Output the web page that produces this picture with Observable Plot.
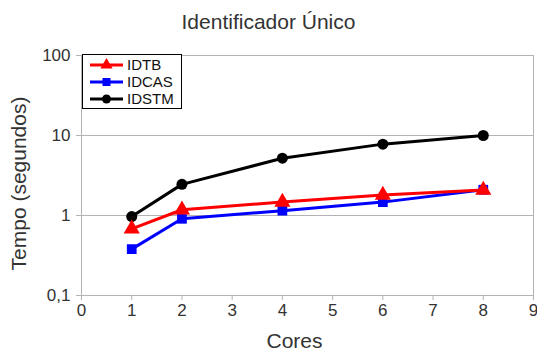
<!DOCTYPE html>
<html><head><meta charset="utf-8">
<script src="https://cdn.jsdelivr.net/npm/d3@7"></script>
<script src="https://cdn.jsdelivr.net/npm/@observablehq/plot@0.6"></script>
<style>
body{margin:0;background:#fff;font-family:"Liberation Sans",Arial,sans-serif;}
#wrap{position:relative;width:537px;height:352px;overflow:hidden;}
#title{height:40px;line-height:44px;text-align:center;font-size:21px;color:#333;}
#legend{position:absolute;left:82px;top:54px;}
</style></head>
<body><div id="wrap"><div id="title">Identificador Único</div><div id="chart"></div><div id="legend"></div></div>
<script>
const cores = [1, 2, 4, 6, 8];
const seriesNames = ["IDTB", "IDCAS", "IDSTM"];
const IDTB  = [0.68, 1.18, 1.47, 1.8, 2.08];
const IDCAS = [0.38, 0.91, 1.15, 1.47, 2.1];
const IDSTM = [0.97, 2.45, 5.2, 7.8, 10.0];
const xTicks = [0,1,2,3,4,5,6,7,8,9];
const yTicks = [0.1, 1, 10, 100];
const yTickLabels = ["0,1", "1", "10", "100"];
const colors = {IDTB: "#ff0000", IDCAS: "#0000ff", IDSTM: "#000000"};
const symbols = {IDTB: "triangle", IDCAS: "square", IDSTM: "circle"};

const values = {IDTB, IDCAS, IDSTM};
const drawOrder = ["IDSTM", "IDCAS", "IDTB"];
const rows = drawOrder.flatMap(s => cores.map((c, i) => ({series: s, cores: c, t: values[s][i]})));

const marks = [
  Plot.gridY(yTicks.slice(1, 3), {stroke: "#b3b3b3", strokeOpacity: 1}),
  Plot.frame({stroke: "#b3b3b3"}),
  Plot.axisY(yTicks, {tickSize: 5, stroke: "#b3b3b3", tickPadding: 6, fontSize: 17, fill: "#333",
    tickFormat: (d) => yTickLabels[yTicks.indexOf(d)], label: "Tempo (segundos)", labelAnchor: "center", labelArrow: "none", labelOffset: 70}),
  Plot.axisX(xTicks, {tickSize: 5, stroke: "#b3b3b3", tickPadding: 3, fontSize: 17, fill: "#333",
    label: "Cores", labelAnchor: "center", labelArrow: "none", labelOffset: 52})
];
for (const s of drawOrder) {
  const d = rows.filter(r => r.series === s);
  marks.push(Plot.line(d, {x: "cores", y: "t", stroke: colors[s], strokeWidth: 3}));
  marks.push(Plot.dot(d, {x: "cores", y: "t", fill: colors[s], stroke: "none", symbol: symbols[s], r: s === "IDTB" ? 6 : 5.5}));
}

const chart = Plot.plot({
  width: 537, height: 312,
  marginTop: 15, marginLeft: 81, marginRight: 4, marginBottom: 57,
  style: {fontFamily: "Liberation Sans, Arial, sans-serif", fontSize: "17px", color: "#333", background: "#fff"},
  x: {domain: [0, 9]},
  y: {type: "log", domain: [0.1, 100]},
  marks
});
const shiftLabel = (sel, dx, dy) => chart.querySelectorAll(sel).forEach(t => {
  t.setAttribute("font-size", "21");
  t.setAttribute("transform", `translate(${dx},${dy}) ${t.getAttribute("transform") || ""}`);
});
shiftLabel("[aria-label='y-axis label'] text", 0, 8);
shiftLabel("[aria-label='x-axis label'] text", -13, 0);
document.getElementById("chart").append(chart);

// legend
const lg = d3.select("#legend").append("svg").attr("width", 101).attr("height", 56);
lg.append("rect").attr("x", 0.5).attr("y", 0.5).attr("width", 99).attr("height", 54).attr("fill", "#fff").attr("stroke", "#000");
const sym = {triangle: d3.symbolTriangle, square: d3.symbolSquare, circle: d3.symbolCircle};
seriesNames.forEach((s, i) => {
  const y = 11 + i * 17;
  lg.append("line").attr("x1", 8).attr("x2", 41).attr("y1", y).attr("y2", y).attr("stroke", colors[s]).attr("stroke-width", 3);
  lg.append("path").attr("transform", `translate(24.5,${y})`).attr("d", d3.symbol(sym[symbols[s]], 64)()).attr("fill", colors[s]);
  lg.append("text").attr("x", 45).attr("y", y).attr("dy", "0.36em").attr("font-size", 15).attr("fill", "#111")
    .attr("font-family", "Liberation Sans, Arial, sans-serif").text(s);
});
</script></body></html>
